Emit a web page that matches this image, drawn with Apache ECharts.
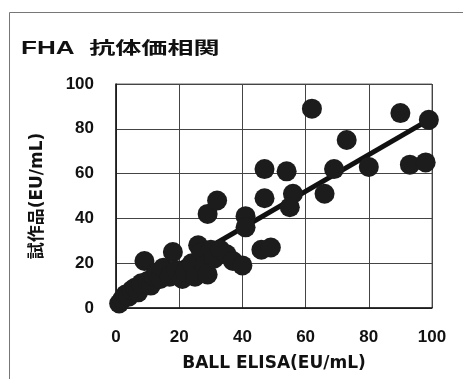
<!DOCTYPE html>
<html><head><meta charset="utf-8">
<script src="https://cdn.jsdelivr.net/npm/echarts@6/dist/echarts.min.js"></script>
<style>html,body{margin:0;padding:0;background:#fff}#c{width:463px;height:379px}</style>
</head><body><div id="c"></div>
<script>
const titleText = 'FHA  抗体価相関';
const xName = 'BALL ELISA(EU/mL)';
const yName = '試作品(EU/mL)';
const axisTicks = [0, 20, 40, 60, 80, 100];
const ballElisa = [1,2,3,4,5,6,7,8,9,10,11,12,13,14,15,17,18,19,21,22,24,25,26,27,28,29,30,31,33,35,37,40,
  29,32,41,41,46,49,47,54,47,56,55,66,69,80,73,62,90,99,93,98];
const shisakuhin = [2,4,6,5,8,9,7,11,21,12,10,14,16,13,18,14,25,17,13,16,20,14,28,25,19,15,26,22,26,24,21,19,
  42,48,41,36,26,27,62,61,49,51,45,51,62,63,75,89,87,84,64,65];
const trendX = [0, 99];
const trendY = [3, 84];

const pts = ballElisa.map((x, i) => [x, shisakuhin[i]]);
const trend = trendX.map((x, i) => [x, trendY[i]]);
const FONT = '"Liberation Sans","Noto Sans CJK JP",Arial,sans-serif';
const NFONT = '"DejaVu Sans","Noto Sans CJK JP",sans-serif';
const chart = echarts.init(document.getElementById('c'), null, {renderer: 'canvas'});
chart.setOption({
  animation: false,
  backgroundColor: '#fff',
  grid: {left: 116, top: 84, right: 31, bottom: 71, show: true, borderColor: '#666', borderWidth: 1, backgroundColor: 'transparent'},
  graphic: [
    {type: 'polyline', shape: {points: [[9.5, 379], [9.5, 12.5], [463, 12.5]]}, style: {stroke: '#777', lineWidth: 1, fill: null}},
    {type: 'text', left: 21, top: 40, scaleX: 1.45, scaleY: 0.97, style: {text: titleText, font: 'bold 18px ' + FONT, fill: '#111'}}
  ],
  xAxis: {
    type: 'value', min: axisTicks[0], max: axisTicks[axisTicks.length - 1], interval: 20,
    name: xName, nameLocation: 'middle', nameGap: 47,
    nameTextStyle: {fontFamily: NFONT, fontWeight: 'bold', fontSize: 17, color: '#111'},
    axisLine: {show: true, lineStyle: {color: '#111', width: 1.5}},
    axisTick: {show: false},
    axisLabel: {fontFamily: FONT, fontWeight: 'bold', fontSize: 17, color: '#111', margin: 21},
    splitLine: {show: true, lineStyle: {color: '#444', width: 1}}
  },
  yAxis: {
    type: 'value', min: axisTicks[0], max: axisTicks[axisTicks.length - 1], interval: 20,
    name: yName, nameLocation: 'middle', nameGap: 70, nameRotate: 90,
    nameTextStyle: {fontFamily: NFONT, fontWeight: 'bold', fontSize: 17, color: '#111'},
    axisLine: {show: true, lineStyle: {color: '#111', width: 1.5}},
    axisTick: {show: false},
    axisLabel: {fontFamily: FONT, fontWeight: 'bold', fontSize: 17, color: '#111', margin: 22},
    splitLine: {show: true, lineStyle: {color: '#444', width: 1}}
  },
  series: [
    {type: 'line', data: trend, symbol: 'none', lineStyle: {color: '#111', width: 5}, z: 2},
    {type: 'scatter', data: pts, symbol: 'circle', symbolSize: 20, itemStyle: {color: '#1c1c1c', opacity: 1}, z: 3}
  ]
});
</script></body></html>
